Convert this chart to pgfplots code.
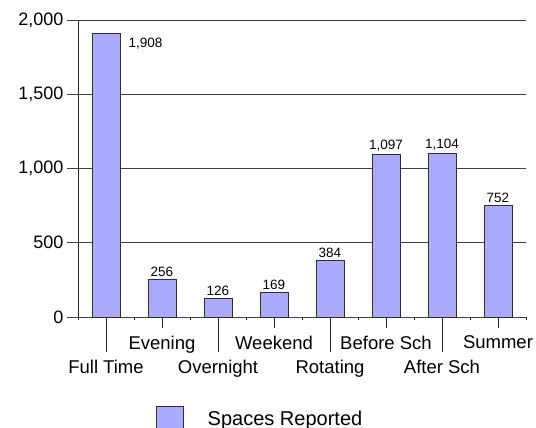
\documentclass[border=0pt]{standalone}
\usepackage{fontspec}
\setmainfont{Liberation Sans}
\usepackage{pgfplots}
\pgfplotsset{compat=1.18}
\definecolor{barcol}{HTML}{AAAAFF}
\definecolor{edgecol}{HTML}{303030}
\begin{document}
\begin{tikzpicture}
\begin{axis}[
  name=ax,
  scale only axis, width=448pt, height=297pt,
  xmin=-0.5, xmax=7.5, ymin=0, ymax=2000,
  axis x line*=bottom, axis y line*=left,
  axis line style={-, black!85, line width=0.6pt},
  ytick=\empty,
  extra y ticks={0,500,1000,1500,2000},
  extra y tick style={major tick length=11pt, grid=major, tick align=outside},
  grid style={black!75, line width=0.6pt},
  ytick style={black!75, line width=0.6pt},
  yticklabel style={font=\fontsize{18}{21}\selectfont, /pgf/number format/1000 sep={,}, /pgf/number format/assume math mode=true},
  tick align=outside,
  major tick length=35pt,
  xtick={0,2,4,6},
  xticklabels={Full Time, Overnight, Rotating, After Sch},
  x tick style={black!85, line width=0.6pt},
  xticklabel style={font=\fontsize{18.5}{22}\selectfont, yshift=-4.5pt},
  extra x ticks={1,3,5,7},
  extra x tick labels={Evening, Weekend, Before Sch, Summer},
  extra x tick style={major tick length=11pt, tick align=outside, grid=none},
  minor xtick={-0.5,0.5,...,7.5},
  minor tick length=3pt,
  ybar, bar width=0.5,
  clip=false,
  legend style={at={(0.174,-0.2997)}, anchor=north west, draw=none, inner sep=0pt, font=\fontsize{20}{24}\selectfont},
  legend image code/.code={\draw[fill=barcol, draw=edgecol, line width=0.6pt] (0pt,-12pt) rectangle (27pt,12pt);},
]
\addplot[fill=barcol, draw=edgecol, line width=0.6pt, bar shift=0pt,
  nodes near coords,
  every node near coord/.append style={font=\fontsize{13.5}{16}\selectfont, /pgf/number format/1000 sep={,}, /pgf/number format/assume math mode=true},
  nodes near coords style={anchor=base west, xshift=19pt, yshift=-14pt}]
  coordinates {(0,1908)};
\addlegendentry{\hspace{22pt}Spaces Reported}
\addplot[fill=barcol, draw=edgecol, line width=0.6pt, bar shift=0pt,
  nodes near coords,
  every node near coord/.append style={font=\fontsize{13.5}{16}\selectfont, yshift=-1pt, /pgf/number format/1000 sep={,}, /pgf/number format/assume math mode=true},
  forget plot]
  coordinates {(1,256) (2,126) (3,169) (4,384) (5,1097) (6,1104) (7,752)};
\end{axis}
\pgfresetboundingbox
\path[use as bounding box] ([shift={(-78pt,-111pt)}]ax.south west) rectangle ([shift={(10pt,20pt)}]ax.north east);
\end{tikzpicture}
\end{document}
